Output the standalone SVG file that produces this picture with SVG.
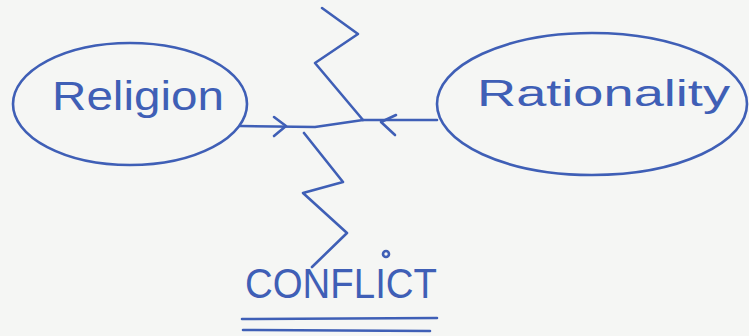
<svg xmlns="http://www.w3.org/2000/svg" width="749" height="336" viewBox="0 0 749 336">
  <style>
    .ink { fill: none; stroke: #3f5fb6; stroke-width: 2.6; stroke-linecap: round; stroke-linejoin: round; }
    .txt { fill: #3f5fb6; font-family: "Liberation Sans", "DejaVu Sans", sans-serif; }
  </style>
  <rect width="749" height="336" fill="#f5f6f4"/>
  <g id="religion">
    <ellipse class="ink" cx="130" cy="104" rx="117" ry="61"/>
    <text class="txt" x="52" y="110" font-size="40" textLength="172" lengthAdjust="spacingAndGlyphs">Religion</text>
  </g>
  <g id="rationality">
    <ellipse class="ink" cx="592" cy="104" rx="155" ry="71"/>
    <text class="txt" x="477" y="106" font-size="36" textLength="253" lengthAdjust="spacingAndGlyphs">Rationality</text>
  </g>
  <g id="conflict">
    <text class="txt" x="245" y="298" font-size="42" textLength="192" lengthAdjust="spacingAndGlyphs">CONFLICT</text>
    <circle class="ink" cx="386" cy="254" r="3" stroke-width="2"/>
    <path class="ink" d="M242 319 L437 318"/>
    <path class="ink" d="M243 330 L430 331"/>
  </g>
  <g id="connectors">
    <path class="ink" d="M240 126 L315 127 L363 120 L437 120"/>
    <path class="ink" d="M274 117 L286 126 L274 136"/>
    <path class="ink" d="M396 115 L381 122 L395 135"/>
    <path class="ink" d="M322 8 L358 34 L315 63 L363 120"/>
    <path class="ink" d="M304 133 L343 182 L303 193 L347 233 L312 267"/>
  </g>
</svg>
